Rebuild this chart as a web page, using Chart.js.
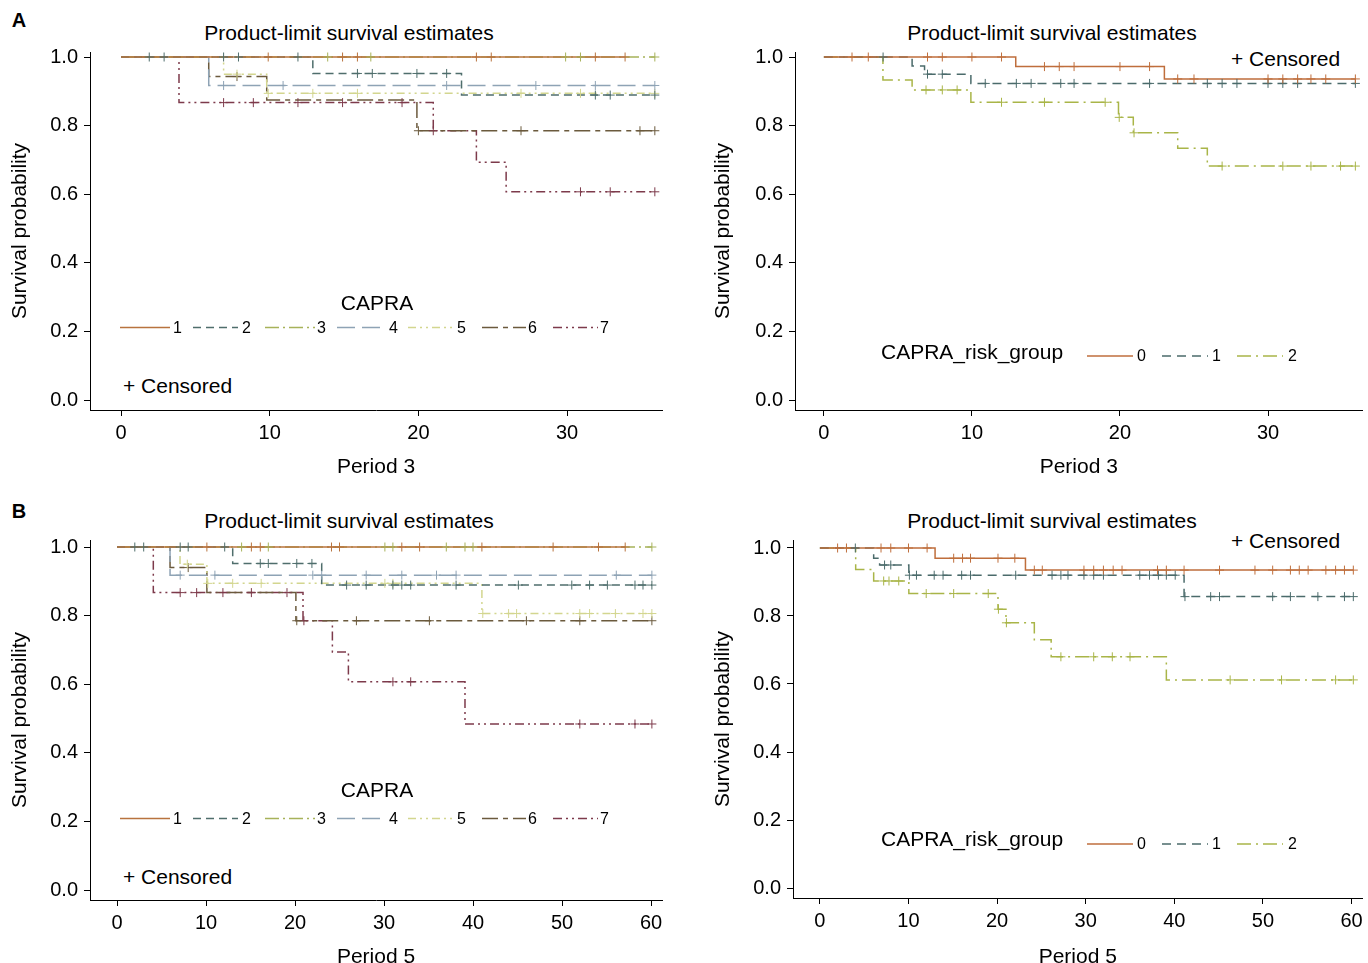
<!DOCTYPE html>
<html><head><meta charset="utf-8">
<script src="https://cdn.jsdelivr.net/npm/chart.js@4"></script>
<style>
html,body{margin:0;padding:0;overflow:hidden;background:#fff;width:1368px;height:963px;font-family:'Liberation Sans',Arial,sans-serif}
.cv{position:absolute}
.txt{position:absolute;white-space:nowrap;color:#000;font-size:21px;line-height:1;font-family:'Liberation Sans',Arial,sans-serif}
.c{transform:translate(-50%,-50%)}
.l{transform:translate(0,-50%)}
</style></head><body>
<div class="txt c" style="left:19px;top:20px;font-weight:bold;font-size:20px">A</div>
<div class="txt c" style="left:19px;top:511px;font-weight:bold;font-size:20px">B</div>
<div class="txt c" style="left:349px;top:32px">Product-limit survival estimates</div>
<div class="txt c" style="left:1052px;top:32px">Product-limit survival estimates</div>
<div class="txt c" style="left:349px;top:520px">Product-limit survival estimates</div>
<div class="txt c" style="left:1052px;top:520px">Product-limit survival estimates</div>
<div class="txt l" style="left:123px;top:385px">+ Censored</div>
<div class="txt l" style="left:123px;top:876px">+ Censored</div>
<div class="txt l" style="left:1231px;top:58px">+ Censored</div>
<div class="txt l" style="left:1231px;top:540px">+ Censored</div>
<canvas id="c1" class="cv"></canvas>
<canvas id="c2" class="cv"></canvas>
<canvas id="c3" class="cv"></canvas>
<canvas id="c4" class="cv"></canvas>
<script>
// ---------- DATA ----------
const capraLabels = ['1','2','3','4','5','6','7'];
const riskLabels = ['0','1','2'];
const xTicksP3 = [0,10,20,30];
const xTicksP5 = [0,10,20,30,40,50,60];
const yTicks = [0,0.2,0.4,0.6,0.8,1.0];

// Period 3, CAPRA score: event times, survival after each event, censoring times
const p3CapraEvents = [[], [12.9,22.9], [], [5.9], [6.9,9.8], [5.9,9.8,19.9], [3.9,21.0,23.9,25.9]];
const p3CapraSurv   = [[], [0.952,0.889], [], [0.917], [0.950,0.894], [0.943,0.875,0.785], [0.867,0.785,0.693,0.607]];
const p3CapraCens   = [
  [9.9,14.9,15.9,23.9,24.9,31.9,33.9],
  [1.9,2.9,6.9,7.9,11.9,15.9,16.9,19.9,21.9,31.9,32.9,35.9],
  [13.9,16.8,29.9,30.9,35.9],
  [6.9,10.9,21.9,27.9,31.9,35.9],
  [7.8,9.9,12.9,15.9,26.9,30.9,35.9],
  [7.8,20.0,26.9,34.9,35.9],
  [6.9,8.9,11.9,14.9,18.9,21.0,30.9,32.9,35.9]
];

// Period 3, CAPRA risk group
const p3RiskEvents = [[12.96,23.0], [5.96,6.8,9.93], [3.99,5.96,9.93,19.9,20.9,23.9,25.9]];
const p3RiskSurv   = [[0.972,0.936], [0.974,0.950,0.923], [0.933,0.904,0.868,0.824,0.779,0.734,0.682]];
const p3RiskCens   = [
  [1.9,3.0,7.0,8.0,10.0,12.0,14.9,15.9,16.9,20.0,22.0,23.9,25.0,30.0,31.0,32.0,32.9,33.9,35.9],
  [4.0,7.0,8.0,10.9,13.0,14.0,16.0,16.9,22.0,25.9,26.9,27.9,30.0,31.0,32.0,35.9],
  [6.9,8.0,9.0,12.0,14.9,19.0,19.95,20.95,26.9,31.0,32.9,34.9,35.9]
];

// Period 5, CAPRA score
const p5CapraEvents = [[], [13.0,23.0], [], [5.96], [7.08,10.1,41.0], [5.96,10.1,20.1], [4.08,20.9,24.2,26.0,39.1]];
const p5CapraSurv   = [[], [0.952,0.889], [], [0.918], [0.950,0.894,0.806], [0.940,0.867,0.785], [0.867,0.785,0.694,0.607,0.484]];
const p5CapraCens   = [
  [10.1,15.1,16.1,24.1,25.0,32.0,34.0,41.0,49.0,54.1,57.1],
  [2.0,3.0,7.1,8.0,12.1,16.1,17.0,20.2,21.9,25.8,28.0,31.0,32.0,33.0,38.1,45.1,51.1,53.1,55.1,58.2,59.1,60.1],
  [14.0,17.0,30.1,31.0,37.0,39.1,40.0,60.1],
  [7.1,11.0,22.0,23.0,28.0,32.0,35.9,38.1,56.1,60.1],
  [7.9,10.2,13.0,16.2,30.1,31.0,41.1,44.0,44.9,52.0,53.1,56.0,59.1,60.1],
  [8.0,20.2,26.9,35.1,46.0,52.0,60.1],
  [7.1,8.95,11.9,15.1,19.1,21.0,31.0,33.0,52.0,58.2,60.1]
];

// Period 5, CAPRA risk group
const p5RiskEvents = [[13.0,23.2], [6.07,6.74,10.04,41.1], [4.04,6.07,10.04,20.1,21.0,24.2,26.1,39.1]];
const p5RiskSurv   = [[0.970,0.935], [0.970,0.950,0.920,0.857], [0.937,0.903,0.866,0.820,0.780,0.730,0.680,0.612]];
const p5RiskCens   = [
  [2.0,3.0,6.9,8.0,10.0,12.1,15.1,16.1,17.0,20.1,22.0,24.2,25.1,29.8,30.9,32.0,33.1,34.1,38.1,39.1,41.1,45.1,49.1,51.1,53.1,54.1,55.1,57.1,58.2,59.2,60.2],
  [4.0,7.3,8.0,10.1,10.9,12.9,13.9,16.0,17.0,22.1,26.2,27.2,28.0,29.8,30.9,32.0,36.1,37.2,38.2,39.1,40.1,41.2,44.1,45.1,51.1,53.1,56.2,59.2,60.2],
  [7.2,7.8,8.9,12.0,15.1,19.0,20.15,21.05,27.2,30.9,33.0,35.0,46.3,52.1,58.2,60.2]
];

// ---------- STYLES ----------
const capraColors = ['#b8733e','#4f6e6c','#a7b25a','#8ea3b5','#d3d68f','#6b5a3d','#7d3a4b'];
const capraDash = [[], [8,5], [14,4,2,4], [18,7], [8,4,2,4,2,4], [16,5,5,5], [9,4,2,4,2,4]];
const riskColors = ['#bf6e3c','#4b6b6b','#a9b548'];
const riskDash = [[], [9,6], [14,5,2,5]];
const FONT = "'Liberation Sans', Arial, sans-serif";

function survAt(t, ev, sv){ let s=1; for(let i=0;i<ev.length;i++){ if(ev[i] <= t+1e-9) s=sv[i]; } return s; }
function steps(ev, sv, cens){
  const pts=[{x:0,y:1}]; let cur=1;
  ev.forEach((t,i)=>{ pts.push({x:t,y:sv[i]}); cur=sv[i]; });
  const end=Math.max(...cens, ...ev);
  pts.push({x:end,y:cur});
  return pts;
}

const legendPlugin = {
  id:'kmLegend',
  afterDatasetsDraw(chart, args, o){
    const ctx=chart.ctx; ctx.save();
    ctx.fillStyle='#000'; ctx.textBaseline='middle';
    ctx.font='21px '+FONT; ctx.textAlign=o.titleAlign;
    ctx.fillText(o.title, o.titleX-o.ox, o.titleY-o.oy);
    o.items.forEach((it,i)=>{
      const ds=chart.data.datasets[i];
      ctx.strokeStyle=ds.borderColor; ctx.lineWidth=1.5; ctx.setLineDash(ds.borderDash||[]);
      ctx.beginPath(); ctx.moveTo(it[0]-o.ox, o.itemY-o.oy); ctx.lineTo(it[1]-o.ox, o.itemY-o.oy); ctx.stroke();
      ctx.setLineDash([]);
      ctx.font='16px '+FONT; ctx.textAlign='left';
      ctx.fillText(o.labels[i], it[2]-o.ox, o.itemY-o.oy+1);
    });
    ctx.restore();
  }
};

function makeChart(id, p){
  const cv=document.getElementById(id);
  const c=p.canvas, g=p.chart;
  cv.style.left=c.left+'px'; cv.style.top=c.top+'px';
  cv.width=c.w; cv.height=c.h; cv.style.width=c.w+'px'; cv.style.height=c.h+'px';
  const yW=g.l-p.scaleLeft, xH=p.scaleBottom-g.b;
  const datasets=[];
  p.events.forEach((ev,i)=>{
    datasets.push({data:steps(ev,p.surv[i],p.cens[i]), stepped:'before', borderColor:p.colors[i], borderWidth:1.5,
      borderDash:p.dash[i], pointRadius:0, fill:false, clip:false, order:2});
  });
  p.events.forEach((ev,i)=>{
    datasets.push({data:p.cens[i].map(t=>({x:t,y:survAt(t,ev,p.surv[i])})), showLine:false, pointStyle:'cross',
      pointRadius:4.5, pointBorderWidth:1, borderColor:p.colors[i], pointBorderColor:p.colors[i], clip:false, order:1});
  });
  new Chart(cv,{
    type:'line',
    data:{datasets},
    plugins:[legendPlugin],
    options:{
      responsive:false, animation:false, events:[],
      layout:{padding:{left:p.scaleLeft-c.left, right:c.left+c.w-g.r, top:g.t-c.top, bottom:c.top+c.h-p.scaleBottom}},
      plugins:{legend:{display:false}, tooltip:{enabled:false}, title:{display:false},
        kmLegend:Object.assign({ox:c.left, oy:c.top}, p.legend)},
      scales:{
        x:{type:'linear', min:(g.l-p.x0)/p.ppu, max:(g.r-p.x0)/p.ppu,
          afterBuildTicks:s=>{s.ticks=p.xTicks.map(v=>({value:v}));},
          afterFit:s=>{s.height=xH;},
          ticks:{color:'#000', font:{family:FONT,size:20}, padding:5, maxRotation:0, autoSkip:false, callback:v=>String(v)},
          grid:{drawOnChartArea:false, drawTicks:true, tickLength:6, color:'#000', lineWidth:1},
          border:{display:true, color:'#000', width:1},
          title:{display:true, text:p.xTitle, color:'#000', font:{family:FONT,size:21,lineHeight:1}, padding:{top:0,bottom:0}}
        },
        y:{type:'linear', min:(p.y0-g.b)/(p.y0-p.y1), max:(p.y0-g.t)/(p.y0-p.y1),
          afterBuildTicks:s=>{s.ticks=yTicks.map(v=>({value:v}));},
          afterFit:s=>{s.width=yW;},
          ticks:{color:'#000', font:{family:FONT,size:20}, padding:6, autoSkip:false, callback:v=>Number(v).toFixed(1)},
          grid:{drawOnChartArea:false, drawTicks:true, tickLength:6, color:'#000', lineWidth:1},
          border:{display:true, color:'#000', width:1},
          title:{display:true, text:'Survival probability', color:'#000', font:{family:FONT,size:21,lineHeight:1}, padding:{top:0,bottom:0}}
        }
      }
    }
  });
}

const capraItemsX = [[120,170,173],[193,238,242],[265,315,317],[337,387,389],[408,455,457],[482,526,528],[553,598,600]];
const riskItemsX = [[1087,1133,1137],[1162,1208,1212],[1237,1283,1288]];

makeChart('c1',{canvas:{left:0,top:0,w:684,h:482}, chart:{l:90,r:662,t:52,b:410}, x0:121, ppu:14.87, y0:400, y1:57,
  scaleLeft:10, scaleBottom:478, xTicks:xTicksP3, xTitle:'Period 3',
  events:p3CapraEvents, surv:p3CapraSurv, cens:p3CapraCens, colors:capraColors, dash:capraDash,
  legend:{title:'CAPRA', titleAlign:'center', titleX:377, titleY:304, itemY:327.5, items:capraItemsX, labels:capraLabels}});
makeChart('c2',{canvas:{left:684,top:0,w:684,h:482}, chart:{l:795,r:1365,t:52,b:410}, x0:824, ppu:14.87, y0:400, y1:57,
  scaleLeft:713, scaleBottom:478, xTicks:xTicksP3, xTitle:'Period 3',
  events:p3RiskEvents, surv:p3RiskSurv, cens:p3RiskCens, colors:riskColors, dash:riskDash,
  legend:{title:'CAPRA_risk_group', titleAlign:'left', titleX:881, titleY:353, itemY:356, items:riskItemsX, labels:riskLabels}});
makeChart('c3',{canvas:{left:0,top:482,w:684,h:486}, chart:{l:90,r:662,t:540,b:900}, x0:117, ppu:8.9, y0:890, y1:547,
  scaleLeft:10, scaleBottom:968, xTicks:xTicksP5, xTitle:'Period 5',
  events:p5CapraEvents, surv:p5CapraSurv, cens:p5CapraCens, colors:capraColors, dash:capraDash,
  legend:{title:'CAPRA', titleAlign:'center', titleX:377, titleY:791, itemY:818.5, items:capraItemsX, labels:capraLabels}});
makeChart('c4',{canvas:{left:684,top:482,w:684,h:486}, chart:{l:793,r:1365,t:540,b:898}, x0:820, ppu:8.9, y0:888, y1:548,
  scaleLeft:713, scaleBottom:968, xTicks:xTicksP5, xTitle:'Period 5',
  events:p5RiskEvents, surv:p5RiskSurv, cens:p5RiskCens, colors:riskColors, dash:riskDash,
  legend:{title:'CAPRA_risk_group', titleAlign:'left', titleX:881, titleY:840, itemY:844, items:riskItemsX, labels:riskLabels}});
</script>
</body></html>
